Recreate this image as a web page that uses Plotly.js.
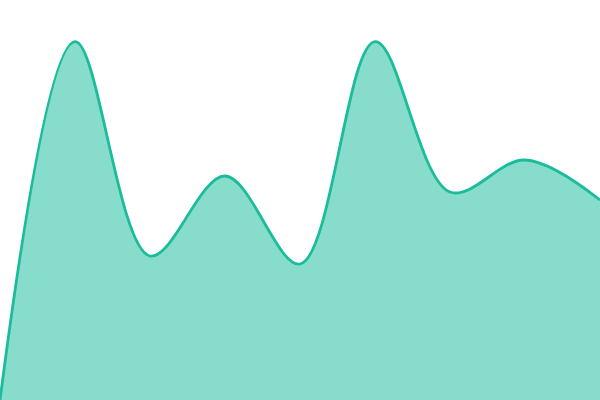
<!DOCTYPE html>
<html>
<head>
<meta charset="utf-8">
<script src="https://cdn.plot.ly/plotly-3.0.1.min.js"></script>
<style>html,body{margin:0;padding:0;background:#fff;}#chart{width:600px;height:400px;}</style>
</head>
<body>
<div id="chart"></div>
<script>
const xValues = [0, 1, 2, 3, 4, 5, 6, 7, 8];
const yValues = [0, 44.8, 18, 28, 17, 44.8, 26, 30, 25];

Plotly.newPlot('chart', [{
  x: xValues,
  y: yValues,
  type: 'scatter',
  mode: 'lines',
  fill: 'tozeroy',
  fillcolor: 'rgba(26,188,156,0.52)',
  line: {color: '#1abc9c', width: 2.8, shape: 'spline', smoothing: 1},
  hoverinfo: 'none'
}], {
  width: 600,
  height: 400,
  margin: {l: 0, r: 0, t: 0, b: 0},
  paper_bgcolor: '#ffffff',
  plot_bgcolor: '#ffffff',
  showlegend: false,
  xaxis: {range: [0, 8], visible: false, fixedrange: true},
  yaxis: {range: [0, 50], visible: false, fixedrange: true}
}, {displayModeBar: false, staticPlot: true});
</script>
</body>
</html>
